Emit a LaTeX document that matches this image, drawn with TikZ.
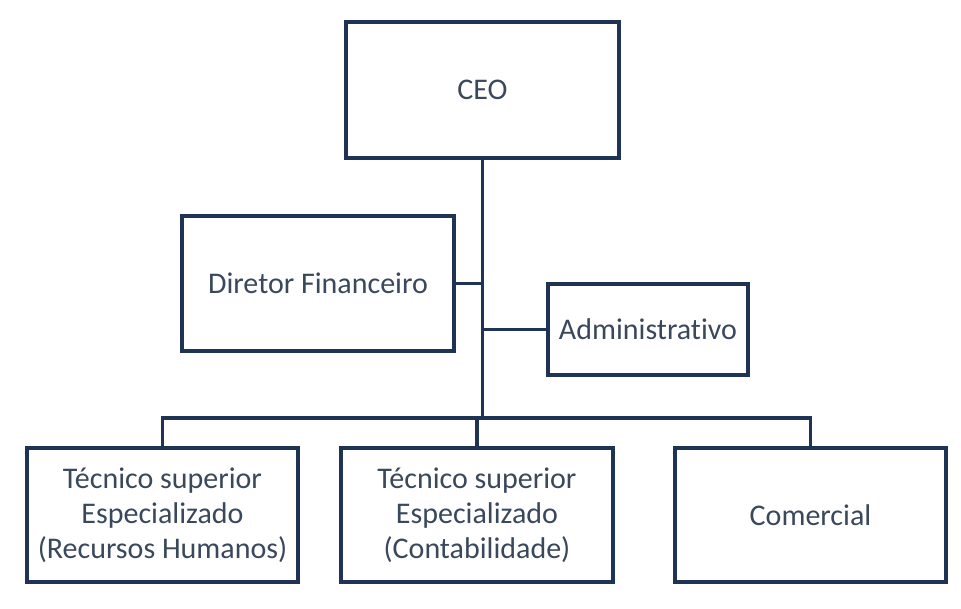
\documentclass[tikz,border=0pt]{standalone}
\usepackage{fontspec}
\setmainfont[Ligatures=NoCommon]{Carlito}
\definecolor{boxline}{RGB}{31,52,84}
\definecolor{txt}{RGB}{58,72,92}
\begin{document}
\begin{tikzpicture}[x=1pt,y=-1pt,
  orgbox/.style={draw=boxline, line width=3.6pt, fill=white, rectangle, inner sep=0pt,
    text=txt, align=center, font=\fontsize{30}{35}\selectfont},
  link/.style={draw=boxline, line width=3.6pt}]
\useasboundingbox (0,0) rectangle (961,609);
\fill[white] (0,0) rectangle (961,609);
\node[orgbox, minimum width=273pt, minimum height=136pt] (ceo) at (482.5,90) {CEO};
\node[orgbox, minimum width=272pt, minimum height=135pt] (df) at (318,283.5) {Diretor Financeiro};
\node[orgbox, minimum width=200pt, minimum height=91pt] (adm) at (648,329.5) {Administrativo};
\node[orgbox, minimum width=271pt, minimum height=134pt] (b1) at (162.5,515) {Técnico superior\\Especializado\\(Recursos Humanos)};
\node[orgbox, minimum width=272pt, minimum height=134pt] (b2) at (477,515) {Técnico superior\\Especializado\\(Contabilidade)};
\node[orgbox, minimum width=271pt, minimum height=134pt] (b3) at (810.5,515) {Comercial};
\coordinate (j) at (482.5,418);
\draw[link] (ceo.south) -- (j);
\draw[link] (df.east) -- (df.east -| j);
\draw[link] (adm.west) -- (adm.west -| j);
\draw[link] (b1.north) |- (j) -| (b3.north);
\draw[link] (b2.north) -- (b2.north |- j);
\end{tikzpicture}
\end{document}
